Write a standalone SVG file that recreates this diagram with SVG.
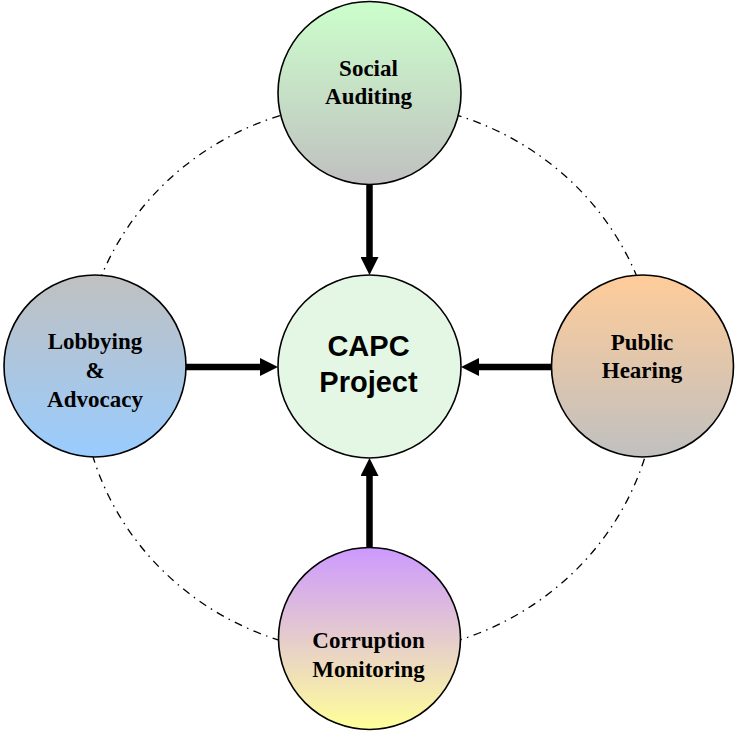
<svg xmlns="http://www.w3.org/2000/svg" width="735" height="732" viewBox="0 0 735 732">
<defs>
<linearGradient id="gTop" x1="0" y1="0" x2="0" y2="1"><stop offset="0" stop-color="#ccffcc"/><stop offset="1" stop-color="#c0c0c0"/></linearGradient>
<linearGradient id="gLeft" x1="0" y1="0" x2="0" y2="1"><stop offset="0" stop-color="#c0c0c0"/><stop offset="1" stop-color="#99ccff"/></linearGradient>
<linearGradient id="gRight" x1="0" y1="0" x2="0" y2="1"><stop offset="0" stop-color="#ffcc99"/><stop offset="1" stop-color="#c0c0c0"/></linearGradient>
<linearGradient id="gBottom" x1="0" y1="0" x2="0" y2="1"><stop offset="0" stop-color="#cc99ff"/><stop offset="1" stop-color="#ffff99"/></linearGradient>
<marker id="ah" markerUnits="userSpaceOnUse" markerWidth="18" markerHeight="18" refX="0" refY="9" orient="auto"><path d="M0,0 L18,9 L0,18 z" fill="#000"/></marker>
<style>
.node{stroke:#000;stroke-width:1.6}
.lbl{font-family:"Liberation Serif","Times New Roman",serif;font-weight:bold;font-size:23px;text-anchor:middle;fill:#000}
.ctr{font-family:"Liberation Sans",Arial,sans-serif;font-weight:bold;font-size:29px;text-anchor:middle;fill:#000}
.conn{stroke:#000;stroke-width:6.5;fill:none;marker-end:url(#ah)}
.ring{fill:none;stroke:#000;stroke-width:1.3;stroke-dasharray:8 5.5 1.5 5.5}
</style>
</defs>
<rect width="735" height="732" fill="#fff"/>
<ellipse class="ring" cx="369" cy="378" rx="288" ry="276"/>
<g id="connectors">
<line class="conn" x1="369.5" y1="184" x2="369.5" y2="257"/>
<line class="conn" x1="369.5" y1="548" x2="369.5" y2="476"/>
<line class="conn" x1="186" y1="367" x2="260" y2="367"/>
<line class="conn" x1="551" y1="367" x2="479" y2="367"/>
</g>
<g id="social-auditing">
<circle class="node" cx="369.5" cy="93" r="91.5" fill="url(#gTop)"/>
<text class="lbl" x="368.5" y="76">Social</text>
<text class="lbl" x="368.5" y="104">Auditing</text>
</g>
<g id="capc-project">
<circle class="node" cx="369.5" cy="366.5" r="91.5" fill="#e4f7e4"/>
<text class="ctr" x="368.5" y="356">CAPC</text>
<text class="ctr" x="368.5" y="392">Project</text>
</g>
<g id="lobbying-advocacy">
<circle class="node" cx="95" cy="366" r="91" fill="url(#gLeft)"/>
<text class="lbl" x="95" y="349">Lobbying</text>
<text class="lbl" x="95" y="378">&amp;</text>
<text class="lbl" x="95" y="407">Advocacy</text>
</g>
<g id="public-hearing">
<circle class="node" cx="642.5" cy="366" r="91" fill="url(#gRight)"/>
<text class="lbl" x="642" y="350">Public</text>
<text class="lbl" x="642" y="378">Hearing</text>
</g>
<g id="corruption-monitoring">
<circle class="node" cx="369.5" cy="638.5" r="91" fill="url(#gBottom)"/>
<text class="lbl" x="368.5" y="648">Corruption</text>
<text class="lbl" x="368.5" y="677">Monitoring</text>
</g>
</svg>
